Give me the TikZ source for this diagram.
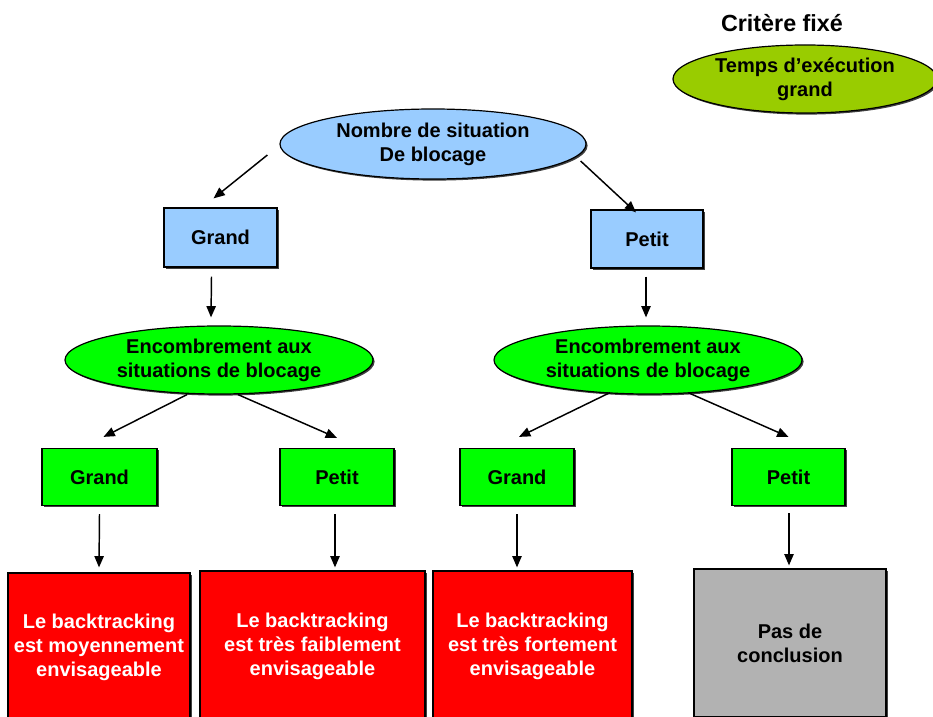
\documentclass[tikz,border=0pt]{standalone}
\usepackage{fontspec}
\setmainfont{Liberation Sans}
\usetikzlibrary{shapes.geometric,arrows.meta,calc,shadows}
\definecolor{cblue}{HTML}{99CCFF}
\definecolor{cgreen}{HTML}{00FF00}
\definecolor{colive}{HTML}{99CC00}
\definecolor{cred}{HTML}{FF0000}
\definecolor{cgray}{HTML}{B2B2B2}
\begin{document}
\begin{tikzpicture}[x=0.75pt,y=-0.75pt,
  lbl/.style={font=\fontsize{15}{18}\selectfont\bfseries, align=center},
  shad/.style={drop shadow={shadow xshift=1.2pt, shadow yshift=-1.2pt, fill=black!75, opacity=1}},
  oval/.style={ellipse, draw=black, line width=0.9pt, inner sep=0pt, lbl, shad},
  box/.style={rectangle, draw=black, line width=0.9pt, inner sep=0pt, lbl, shad},
  arr/.style={line width=1.1pt, -{Triangle[length=8.5pt,width=7pt]}}
]
\useasboundingbox (0,0) rectangle (933,717);
\clip (0,0) rectangle (933,717);

\node[lbl, font=\fontsize{17.5}{20}\selectfont\bfseries] (crit) at (782,23) {Critère fixé};
\node[oval, fill=colive, minimum width=264*0.75pt, minimum height=68*0.75pt] (temps) at (805,79) {Temps d’exécution\\grand};

\node[oval, fill=cblue, minimum width=306*0.75pt, minimum height=70*0.75pt] (top) at (433,144) {Nombre de situation\\De blocage};

\node[box, fill=cblue, minimum width=113*0.75pt, minimum height=59*0.75pt] (g0) at (220.5,237.5) {Grand};
\node[box, fill=cblue, minimum width=112*0.75pt, minimum height=58*0.75pt] (p0) at (647,239) {Petit};

\node[oval, fill=cgreen, minimum width=308*0.75pt, minimum height=68*0.75pt] (enc1) at (219,360) {Encombrement aux\\situations de blocage};
\node[oval, fill=cgreen, minimum width=308*0.75pt, minimum height=68*0.75pt] (enc2) at (648,360) {Encombrement aux\\situations de blocage};

\node[box, fill=cgreen, minimum width=115*0.75pt, minimum height=57*0.75pt] (g1) at (99.5,477) {Grand};
\node[box, fill=cgreen, minimum width=114*0.75pt, minimum height=57*0.75pt] (p1) at (337,477) {Petit};
\node[box, fill=cgreen, minimum width=114*0.75pt, minimum height=57*0.75pt] (g2) at (517,477) {Grand};
\node[box, fill=cgreen, minimum width=113*0.75pt, minimum height=57*0.75pt] (p2) at (788.5,477) {Petit};

\node[box, fill=cred, text=white, minimum width=182*0.75pt, minimum height=148*0.75pt] (r1) at (99,647) {Le backtracking\\est moyennement\\envisageable};
\node[box, fill=cred, text=white, minimum width=225*0.75pt, minimum height=150*0.75pt] (r2) at (312.5,646) {Le backtracking\\est très faiblement\\envisageable};
\node[box, fill=cred, text=white, minimum width=199*0.75pt, minimum height=150*0.75pt] (r3) at (532.5,646) {Le backtracking\\est très fortement\\envisageable};
\node[box, fill=cgray, minimum width=192*0.75pt, minimum height=148*0.75pt] (r4) at (790,643) {Pas de\\conclusion};

\draw[arr] ($(top.west)+(-12,11)$) -- ($(g0.north)+(-7,-9)$);
\draw[arr] ($(top.east)+(-6,17)$) -- ($(p0.north)+(-11,3)$);
\draw[arr] ($(g0.south)+(-9,9)$) -- ($(enc1.north)+(-8,-8)$);
\draw[arr] ($(p0.south)+(-1,8)$) -- ($(enc2.north)+(-2,-8)$);
\draw[arr] ($(enc1.south)+(-32,0)$) -- ($(g1.north)+(4,-11)$);
\draw[arr] ($(enc1.south)+(19,0)$) -- ($(p1.north)+(0,-10)$);
\draw[arr] ($(enc2.south)+(-38,-2)$) -- ($(g2.north)+(2,-11)$);
\draw[arr] ($(enc2.south)+(40,-2)$) -- ($(p2.north)+(0,-11)$);
\draw[arr] ($(g1.south)+(0,8)$) -- ($(r1.north)+(0,-5)$);
\draw[arr] ($(p1.south)+(-2,8)$) -- ($(r2.north)+(22.5,-3)$);
\draw[arr] ($(g2.south)+(0,8)$) -- ($(r3.north)+(-15.5,-3)$);
\draw[arr] ($(p2.south)+(0.5,7)$) -- ($(r4.north)+(-1,-3)$);
\end{tikzpicture}
\end{document}
